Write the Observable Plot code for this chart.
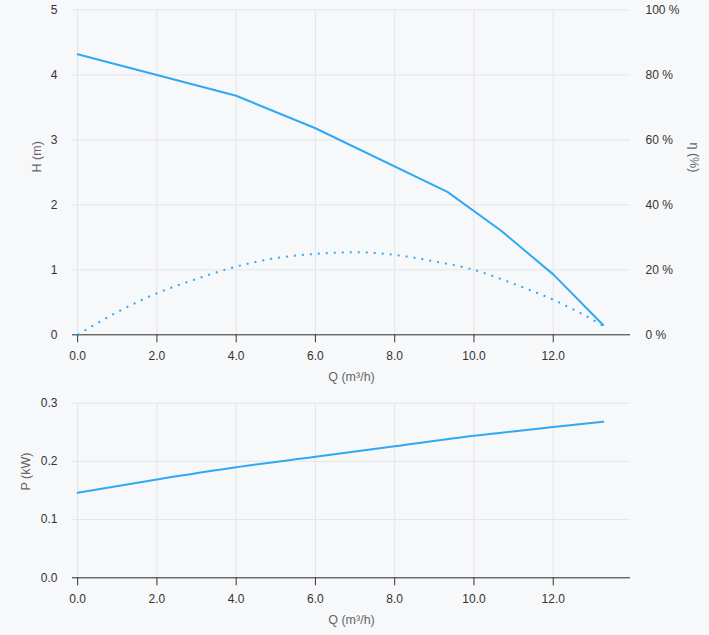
<!DOCTYPE html>
<html>
<head>
<meta charset="utf-8">
<script src="https://cdn.jsdelivr.net/npm/d3@7"></script>
<script src="https://cdn.jsdelivr.net/npm/@observablehq/plot@0.6"></script>
<style>
  html, body { margin: 0; padding: 0; background: #f7f8fa; }
  #chart svg { display: block; }
</style>
</head>
<body>
<div id="chart"></div>
<script>
// Pump curves: head and efficiency against flow, and shaft power against flow.
const flowH = [0, 2, 4, 6, 9.33, 10.67, 12, 13.26];
const head = [4.32, 4.0, 3.68, 3.18, 2.2, 1.61, 0.93, 0.15];

const flowEta = [0, 1, 2, 3, 4, 5, 6, 7, 8, 9, 10, 11, 12, 13, 13.26];
const efficiency = [0, 7, 12.8, 17.2, 21, 23.6, 24.9, 25.4, 24.6, 22.6, 20, 15.7, 10.8, 4.6, 2.8];

const flowP = [0, 2, 4, 6, 8, 10, 12, 13.26];
const power = [0.146, 0.169, 0.19, 0.208, 0.226, 0.244, 0.259, 0.268];

const qTicks = [0, 2, 4, 6, 8, 10, 12];
const hTicks = [0, 1, 2, 3, 4, 5];
const pTicks = [0, 0.1, 0.2, 0.3];

const qLabel = "Q (m³/h)";
const hLabel = "H (m)";
const etaLabel = "η (%)";
const pLabel = "P (kW)";

// efficiency (0–100 %) is plotted against the head axis (0–5 m)
const etaToH = 5 / 100;

const headData = flowH.map((q, i) => ({q, h: head[i]}));
const etaData = flowEta.map((q, i) => ({q, eta: efficiency[i]}));
const powerData = flowP.map((q, i) => ({q, p: power[i]}));

const blue = "#2fa9f5";
const grid = "#e4e5e7";
const titleColor = "#666";
const plotStyle = {
  background: "#f7f8fa",
  color: "#333",
  fontFamily: "'Liberation Sans', Arial, sans-serif",
  fontSize: "12px"
};
const xScale = {domain: [-0.13, 13.95]};
const fmt1 = d3.format(".1f");
const tick = {fontSize: 12, label: null};

const headChart = Plot.plot({
  width: 709,
  height: 390,
  marginTop: 9.5,
  marginBottom: 55.7,
  marginLeft: 72,
  marginRight: 79,
  style: plotStyle,
  x: xScale,
  y: {domain: [0, 5]},
  marks: [
    Plot.gridX(qTicks, {stroke: grid, strokeOpacity: 1}),
    Plot.gridY(hTicks, {stroke: grid, strokeOpacity: 1}),
    Plot.axisX(qTicks, {...tick, tickSize: 8, tickPadding: 9, tickFormat: fmt1}),
    Plot.axisY(hTicks, {...tick, tickSize: 0, tickPadding: 15, tickFormat: d3.format("d")}),
    Plot.axisY(hTicks, {...tick, anchor: "right", tickSize: 0, tickPadding: 15,
      tickFormat: d => `${Math.round(d / etaToH)} %`}),
    Plot.ruleY([0], {stroke: "#333"}),
    Plot.line(etaData, {x: "q", y: d => d.eta * etaToH, stroke: blue, strokeWidth: 2,
      strokeDasharray: "2 6", strokeLinecap: "butt", curve: "monotone-x"}),
    Plot.line(headData, {x: "q", y: "h", stroke: blue, strokeWidth: 2}),
    Plot.text([qLabel], {frameAnchor: "bottom", dy: 46, fill: titleColor, fontSize: 12.5}),
    Plot.text([hLabel], {frameAnchor: "left", dx: -35.5, rotate: -90, fill: titleColor, fontSize: 12.5}),
    Plot.text([etaLabel], {frameAnchor: "right", dx: 63, rotate: 90, fill: titleColor, fontSize: 12.5})
  ]
});

const powerChart = Plot.plot({
  width: 709,
  height: 245,
  marginTop: 12.7,
  marginBottom: 57.7,
  marginLeft: 72,
  marginRight: 79,
  style: plotStyle,
  x: xScale,
  y: {domain: [0, 0.3]},
  marks: [
    Plot.gridX(qTicks, {stroke: grid, strokeOpacity: 1}),
    Plot.gridY(pTicks, {stroke: grid, strokeOpacity: 1}),
    Plot.axisX(qTicks, {...tick, tickSize: 8, tickPadding: 9, tickFormat: fmt1}),
    Plot.axisY(pTicks, {...tick, tickSize: 0, tickPadding: 15, tickFormat: fmt1}),
    Plot.ruleY([0], {stroke: "#333"}),
    Plot.line(powerData, {x: "q", y: "p", stroke: blue, strokeWidth: 2, curve: "monotone-x"}),
    Plot.text([qLabel], {frameAnchor: "bottom", dy: 46, fill: titleColor, fontSize: 12.5}),
    Plot.text([pLabel], {frameAnchor: "left", dx: -47, rotate: -90, fill: titleColor, fontSize: 12.5})
  ]
});

document.getElementById("chart").append(headChart, powerChart);
</script>
</body>
</html>
